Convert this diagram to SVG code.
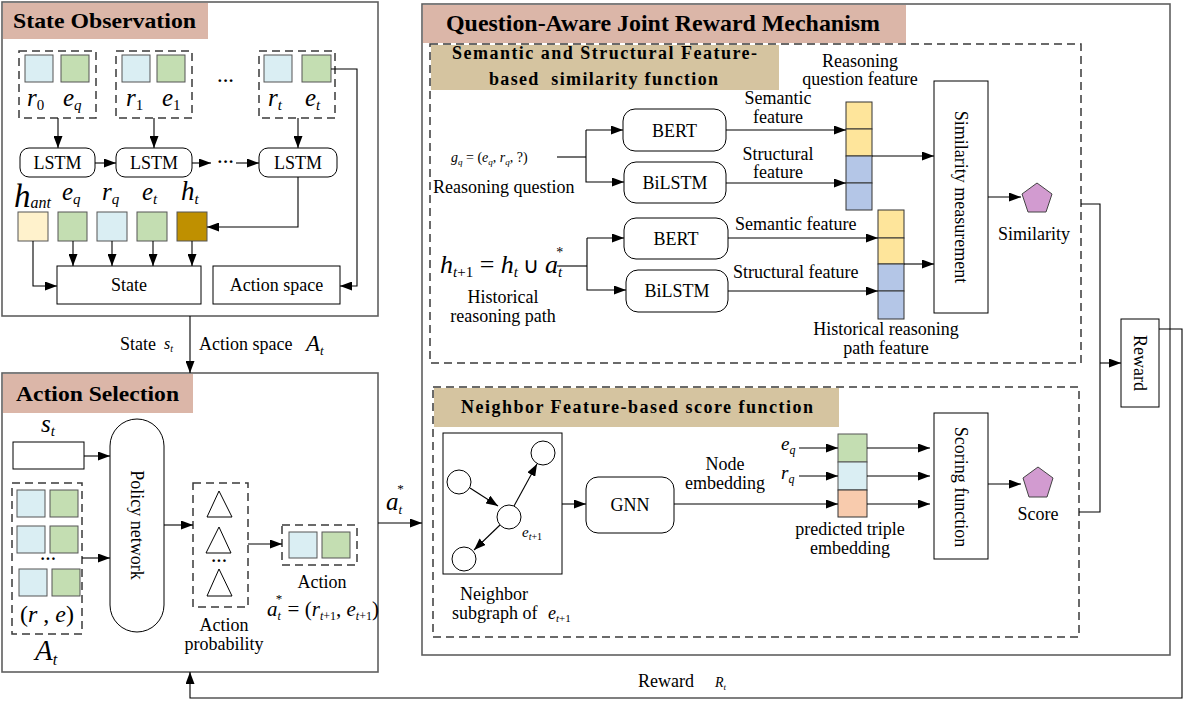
<svg xmlns="http://www.w3.org/2000/svg" width="1184" height="702" viewBox="0 0 1184 702">
<defs>
<marker id="ah" markerWidth="12" markerHeight="9" refX="12" refY="4.5" orient="auto" markerUnits="userSpaceOnUse"><path d="M0,0 L12,4.5 L0,9 z" fill="#000"/></marker>
<style>
.panel{fill:#fff;stroke:#5f5f5f;stroke-width:1.6}
.dash{fill:none;stroke:#3a3a3a;stroke-width:1.5;stroke-dasharray:8 5}
.box{fill:#fff;stroke:#000;stroke-width:1}
.ln{fill:none;stroke:#000;stroke-width:1.1}
.ar{fill:none;stroke:#000;stroke-width:1.1;marker-end:url(#ah)}
.t{font-family:"Liberation Serif","Times New Roman",serif;fill:#000}
.c{text-anchor:middle}
.ttl{font-family:"Liberation Serif","Times New Roman",serif;font-weight:bold;fill:#000}
.m{font-family:"Liberation Serif","Times New Roman",serif;font-style:italic;fill:#000}
.sal{fill:#dbb6a8}
.tan{fill:#d5c4a0}
.lb{fill:#daeef3;stroke:#555;stroke-width:1}
.gr{fill:#c4deb2;stroke:#555;stroke-width:1}
.ye{fill:#fee59b;stroke:#333;stroke-width:1}
.bl{fill:#b4c6e7;stroke:#333;stroke-width:1}
.pe{fill:#f8cbad;stroke:#333;stroke-width:1}
.pent{fill:#d29bd0;stroke:#444;stroke-width:1}
.tri{fill:#fff;stroke:#000;stroke-width:1}
.cir{fill:#fff;stroke:#000;stroke-width:1}
</style>
</defs>

<!-- ================= State Observation ================= -->
<g id="state-observation">
<rect class="panel" x="2" y="2" width="376" height="314"/>
<rect class="sal" x="3" y="3" width="205" height="36"/>
<text class="ttl" x="13" y="28" font-size="22" textLength="183" lengthAdjust="spacingAndGlyphs">State Observation</text>
</g>

<g id="obs-0">
<rect class="dash" x="19" y="51" width="77" height="67"/>
<rect class="lb" x="25" y="55" width="28" height="27"/>
<rect class="gr" x="61" y="55" width="28" height="27"/>
<text class="m" x="27" y="106" font-size="25">r<tspan font-size="15" font-style="normal" dy="4">0</tspan></text>
<text class="m" x="63" y="106" font-size="25">e<tspan font-size="15" dy="4">q</tspan></text>
</g>
<g id="obs-1">
<rect class="dash" x="116" y="51" width="76" height="67"/>
<rect class="lb" x="122" y="55" width="28" height="27"/>
<rect class="gr" x="157" y="55" width="28" height="27"/>
<text class="m" x="126" y="106" font-size="25">r<tspan font-size="15" font-style="normal" dy="4">1</tspan></text>
<text class="m" x="162" y="106" font-size="25">e<tspan font-size="15" font-style="normal" dy="4">1</tspan></text>
</g>
<text class="t" x="217" y="86" font-size="17" font-weight="bold">···</text>
<g id="obs-t">
<rect class="dash" x="259" y="51" width="76" height="67"/>
<rect class="lb" x="264" y="55" width="28" height="27"/>
<rect class="gr" x="302" y="55" width="29" height="27"/>
<text class="m" x="268" y="106" font-size="25">r<tspan font-size="15" dy="4">t</tspan></text>
<text class="m" x="305" y="106" font-size="25">e<tspan font-size="15" dy="4">t</tspan></text>
</g>

<g id="lstm-1"><rect class="box" x="20" y="148" width="75" height="29" rx="9"/><text class="t c" x="57.5" y="169" font-size="18">LSTM</text></g>
<g id="lstm-2"><rect class="box" x="116" y="148" width="76" height="29" rx="9"/><text class="t c" x="154" y="169" font-size="18">LSTM</text></g>
<g id="lstm-3"><rect class="box" x="259" y="148" width="78" height="29" rx="9"/><text class="t c" x="298" y="169" font-size="18">LSTM</text></g>
<text class="t" x="217" y="167" font-size="17" font-weight="bold">···</text>

<g id="state-vectors">
<text class="m" x="14" y="207" font-size="33">h<tspan font-size="16" dy="1">ant</tspan></text>
<text class="m" x="62" y="200" font-size="25">e<tspan font-size="15" dy="4">q</tspan></text>
<text class="m" x="102" y="200" font-size="25">r<tspan font-size="15" dy="4">q</tspan></text>
<text class="m" x="142" y="200" font-size="25">e<tspan font-size="15" dy="4">t</tspan></text>
<text class="m" x="181" y="200" font-size="27">h<tspan font-size="15" dy="4">t</tspan></text>
<rect x="18" y="212" width="30" height="29" fill="#fff2cc" stroke="#555"/>
<rect class="gr" x="58" y="212" width="29" height="29"/>
<rect class="lb" x="97" y="212" width="30" height="29"/>
<rect class="gr" x="137" y="212" width="30" height="29"/>
<rect x="177" y="212" width="30" height="29" fill="#bf9000" stroke="#555"/>
</g>
<g id="state-box"><rect class="box" x="57" y="266" width="144" height="38"/><text class="t c" x="129" y="291" font-size="18">State</text></g>
<g id="action-space-box"><rect class="box" x="213" y="266" width="127" height="38"/><text class="t c" x="276.5" y="291" font-size="18">Action space</text></g>

<!-- ================= Action Selection ================= -->
<g id="action-selection">
<rect class="panel" x="2" y="373" width="376" height="299"/>
<rect class="sal" x="3" y="374" width="190" height="39"/>
<text class="ttl" x="16" y="401" font-size="22" textLength="163" lengthAdjust="spacingAndGlyphs">Action Selection</text>
</g>
<g id="st-input">
<text class="m" x="41" y="432" font-size="25">s<tspan font-size="15" dy="4">t</tspan></text>
<rect class="box" x="13" y="442" width="71" height="27"/>
</g>
<g id="action-space-set">
<rect class="dash" x="12" y="483" width="70" height="151"/>
<rect class="lb" x="17" y="490" width="28" height="27"/>
<rect class="gr" x="50" y="490" width="28" height="27"/>
<rect class="lb" x="17" y="526" width="28" height="27"/>
<rect class="gr" x="50" y="526" width="28" height="27"/>
<text class="t" x="40" y="564" font-weight="bold" font-size="16">···</text>
<rect class="lb" x="19" y="569" width="28" height="27"/>
<rect class="gr" x="52" y="569" width="28" height="27"/>
<text class="m" x="20" y="622" font-size="24"><tspan font-style="normal">(</tspan>r<tspan font-style="normal"> , </tspan>e<tspan font-style="normal">)</tspan></text>
<text class="m" x="35" y="660" font-size="29">A<tspan font-size="16" dy="5">t</tspan></text>
</g>
<g id="policy-network">
<rect class="box" x="110" y="419" width="54" height="213" rx="27"/>
<text class="t c" transform="translate(137,525) rotate(90)" dy="6" font-size="18">Policy network</text>
</g>
<g id="action-probability">
<rect class="dash" x="193" y="483" width="55" height="124"/>
<polygon class="tri" points="219,491 207,517 232,517"/>
<polygon class="tri" points="219,527 206,553 231,553"/>
<text class="t" x="211" y="566" font-weight="bold" font-size="16">···</text>
<polygon class="tri" points="219,569 207,596 232,596"/>
<text class="t c" x="224" y="631" font-size="18">Action</text>
<text class="t c" x="224" y="650" font-size="18">probability</text>
</g>
<g id="action">
<rect class="dash" x="282" y="525" width="75" height="40"/>
<rect class="lb" x="289" y="532" width="28" height="26"/>
<rect class="gr" x="322" y="532" width="28" height="26"/>
<text class="t c" x="322" y="588" font-size="18">Action</text>
<text class="m" x="267" y="616" font-size="21">a<tspan font-size="12" dy="4">t</tspan><tspan font-size="13" dx="-5" dy="-17" font-style="normal">*</tspan><tspan font-style="normal" dy="13"> = (</tspan>r<tspan font-size="12" dy="4">t</tspan><tspan font-size="12" font-style="normal">+1</tspan><tspan font-style="normal" dy="-4">, </tspan>e<tspan font-size="12" dy="4">t</tspan><tspan font-size="12" font-style="normal">+1</tspan><tspan font-style="normal" dy="-4">)</tspan></text>
</g>

<!-- ================= Question-Aware Joint Reward Mechanism ================= -->
<g id="reward-mechanism">
<rect class="panel" x="422" y="4" width="748" height="651"/>
<rect class="sal" x="423" y="5" width="483" height="38"/>
<text class="ttl" x="446" y="31" font-size="23" textLength="434" lengthAdjust="spacingAndGlyphs">Question-Aware Joint Reward Mechanism</text>
</g>

<g id="similarity-function">
<rect class="dash" x="430" y="44" width="651" height="319"/>
<rect class="tan" x="431" y="45" width="348" height="45"/>
<text class="ttl" x="452" y="59" font-size="18" textLength="305" lengthAdjust="spacing">Semantic and Structural Feature-</text>
<text class="ttl" x="489" y="85" font-size="18" textLength="229" lengthAdjust="spacing" xml:space="preserve">based  similarity function</text>
</g>
<g id="reasoning-question">
<text class="m" x="451" y="162" font-size="14">g<tspan font-size="9" dy="3">q</tspan><tspan font-style="normal" dy="-3"> = (</tspan>e<tspan font-size="9" dy="3">q</tspan><tspan font-style="normal" dy="-3">, </tspan>r<tspan font-size="9" dy="3">q</tspan><tspan font-style="normal" dy="-3">, ?)</tspan></text>
<text class="t" x="433" y="193" font-size="18">Reasoning question</text>
</g>
<g id="bert-1"><rect class="box" x="623" y="109" width="103" height="42" rx="12"/><text class="t c" x="674.5" y="137" font-size="18">BERT</text></g>
<g id="bilstm-1"><rect class="box" x="624" y="162" width="102" height="41" rx="12"/><text class="t c" x="675" y="189" font-size="18">BiLSTM</text></g>
<g id="question-feature">
<text class="t c" x="860" y="67" font-size="18">Reasoning</text>
<text class="t c" x="860" y="85" font-size="18">question feature</text>
<rect class="ye" x="846" y="102" width="26" height="27"/>
<rect class="ye" x="846" y="129" width="26" height="27"/>
<rect class="bl" x="846" y="156" width="26" height="27"/>
<rect class="bl" x="846" y="183" width="26" height="27"/>
</g>
<g id="history-path">
<text class="m" x="440" y="273" font-size="26">h<tspan font-size="15" dy="4">t</tspan><tspan font-size="15" font-style="normal">+1</tspan><tspan font-style="normal" dy="-4"> = </tspan>h<tspan font-size="15" dy="4">t</tspan><tspan font-style="normal" font-size="22" dy="-4"> ∪ </tspan>a<tspan font-size="15" dy="4">t</tspan><tspan font-size="14" font-style="normal" dx="-6" dy="-20">*</tspan></text>
<text class="t c" x="503" y="303" font-size="18">Historical</text>
<text class="t c" x="503" y="322" font-size="18">reasoning path</text>
</g>
<g id="bert-2"><rect class="box" x="624" y="218" width="104" height="41" rx="12"/><text class="t c" x="676" y="245" font-size="18">BERT</text></g>
<g id="bilstm-2"><rect class="box" x="626" y="270" width="102" height="42" rx="12"/><text class="t c" x="677" y="297" font-size="18">BiLSTM</text></g>
<g id="history-feature">
<rect class="ye" x="878" y="210" width="26" height="28"/>
<rect class="ye" x="878" y="238" width="26" height="26"/>
<rect class="bl" x="878" y="264" width="26" height="27"/>
<rect class="bl" x="878" y="291" width="26" height="28"/>
<text class="t c" x="886" y="335" font-size="18">Historical reasoning</text>
<text class="t c" x="886" y="354" font-size="18">path feature</text>
</g>
<g id="similarity-measurement">
<rect class="box" x="934" y="81" width="54" height="232"/>
<text class="t c" transform="translate(961,197) rotate(90)" dy="6" font-size="18">Similarity measurement</text>
</g>
<g id="similarity">
<polygon class="pent" points="1037,183 1052,194 1046,212 1028,212 1022,194"/>
<text class="t c" x="1034" y="240" font-size="18">Similarity</text>
</g>

<g id="score-function">
<rect class="dash" x="433" y="387" width="646" height="250"/>
<rect class="tan" x="434" y="388" width="405" height="39"/>
<text class="ttl" x="461" y="413" font-size="18" textLength="352" lengthAdjust="spacing">Neighbor Feature-based score function</text>
</g>
<g id="neighbor-subgraph">
<rect class="box" x="443" y="433" width="119" height="141"/>
<circle class="cir" cx="459" cy="482" r="12"/>
<circle class="cir" cx="543" cy="453" r="12"/>
<circle class="cir" cx="509" cy="517" r="12"/>
<circle class="cir" cx="464" cy="559" r="12"/>
<line class="ar" x1="470" y1="488" x2="498" y2="506"/>
<line class="ar" x1="514" y1="506" x2="537" y2="464"/>
<line class="ar" x1="500" y1="525" x2="474" y2="550"/>
<text class="m" x="522" y="537" font-size="15">e<tspan font-size="10" dy="3">t</tspan><tspan font-size="10" font-style="normal">+1</tspan></text>
<text class="t c" x="494" y="600" font-size="18">Neighbor</text>
<text class="t" x="452" y="619" font-size="18">subgraph of</text>
<text class="m" x="548" y="619" font-size="18">e<tspan font-size="11" dy="3">t</tspan><tspan font-size="11" font-style="normal">+1</tspan></text>
</g>
<g id="gnn"><rect class="box" x="586" y="477" width="88" height="56" rx="12"/><text class="t c" x="630" y="511" font-size="18">GNN</text></g>
<g id="triple-embedding">
<text class="t c" x="725" y="470" font-size="18">Node</text>
<text class="t c" x="725" y="489" font-size="18">embedding</text>
<text class="m" x="781" y="450" font-size="19">e<tspan font-size="12" dy="4">q</tspan></text>
<text class="m" x="781" y="479" font-size="19">r<tspan font-size="12" dy="4">q</tspan></text>
<rect class="gr" x="838" y="434" width="29" height="28" stroke="#333"/>
<rect class="lb" x="838" y="462" width="29" height="28" stroke="#333"/>
<rect class="pe" x="838" y="490" width="29" height="27"/>
<text class="t c" x="850" y="535" font-size="18">predicted triple</text>
<text class="t c" x="850" y="554" font-size="18">embedding</text>
</g>
<g id="scoring-function">
<rect class="box" x="934" y="413" width="54" height="146"/>
<text class="t c" transform="translate(961,487) rotate(90)" dy="6" font-size="18">Scoring function</text>
</g>
<g id="score">
<polygon class="pent" points="1038,467 1053,478 1047,497 1029,497 1023,478"/>
<text class="t c" x="1038" y="520" font-size="18">Score</text>
</g>
<g id="reward">
<rect class="box" x="1121" y="319" width="38" height="88"/>
<text class="t c" transform="translate(1140,363) rotate(90)" dy="6" font-size="18">Reward</text>
</g>

<!-- ================= Connectors ================= -->
<g id="connectors">
<line class="ar" x1="58" y1="118" x2="58" y2="148"/>
<line class="ar" x1="154" y1="118" x2="154" y2="148"/>
<line class="ar" x1="298" y1="118" x2="298" y2="148"/>
<line class="ar" x1="95" y1="163" x2="116" y2="163"/>
<line class="ar" x1="192" y1="163" x2="211" y2="163"/>
<line class="ar" x1="236" y1="163" x2="259" y2="163"/>
<polyline class="ar" points="298,177 298,227 207,227"/>
<polyline class="ar" points="331,69 357,69 357,286 340,286"/>
<line class="ar" x1="73" y1="241" x2="73" y2="266"/>
<line class="ar" x1="112" y1="241" x2="112" y2="266"/>
<line class="ar" x1="153" y1="241" x2="153" y2="266"/>
<line class="ar" x1="192" y1="241" x2="192" y2="266"/>
<polyline class="ar" points="33,241 33,286 57,286"/>

<line class="ar" x1="190" y1="316" x2="190" y2="373"/>
<text class="t" x="120" y="350" font-size="18">State</text>
<text class="m" x="164" y="349" font-size="16">s<tspan font-size="10" dy="3">t</tspan></text>
<text class="t" x="199" y="350" font-size="18">Action space</text>
<text class="m" x="306" y="351" font-size="23">A<tspan font-size="13" dy="4">t</tspan></text>

<line class="ar" x1="84" y1="456" x2="110" y2="456"/>
<line class="ar" x1="82" y1="558" x2="110" y2="558"/>
<line class="ar" x1="164" y1="525" x2="193" y2="525"/>
<line class="ar" x1="248" y1="544" x2="282" y2="544"/>
<line class="ar" x1="378" y1="523" x2="422" y2="523"/>
<text class="m" x="386" y="510" font-size="25">a<tspan font-size="13" dy="4">t</tspan><tspan font-size="13" font-style="normal" dx="-5" dy="-21">*</tspan></text>

<polyline class="ln" points="557,157 586,157"/>
<polyline class="ar" points="586,130 586,182 624,182"/>
<line class="ar" x1="586" y1="130" x2="623" y2="130"/>
<line class="ar" x1="726" y1="130" x2="846" y2="130"/>
<line class="ar" x1="726" y1="183" x2="846" y2="183"/>
<text class="t c" x="778" y="104" font-size="18">Semantic</text>
<text class="t c" x="778" y="123" font-size="18">feature</text>
<text class="t c" x="778" y="160" font-size="18">Structural</text>
<text class="t c" x="778" y="178" font-size="18">feature</text>
<line class="ar" x1="872" y1="156" x2="934" y2="156"/>

<polyline class="ln" points="557,266 587,266"/>
<polyline class="ar" points="587,238 587,290 626,290"/>
<line class="ar" x1="587" y1="238" x2="624" y2="238"/>
<line class="ar" x1="728" y1="238" x2="878" y2="238"/>
<line class="ar" x1="728" y1="291" x2="878" y2="291"/>
<text class="t" x="735" y="230" font-size="18">Semantic feature</text>
<text class="t" x="733" y="278" font-size="18">Structural feature</text>
<line class="ar" x1="904" y1="264" x2="934" y2="264"/>

<line class="ar" x1="988" y1="197" x2="1021" y2="197"/>

<line class="ar" x1="562" y1="504" x2="586" y2="504"/>
<line class="ar" x1="674" y1="504" x2="838" y2="504"/>
<line class="ar" x1="799" y1="448" x2="838" y2="448"/>
<line class="ar" x1="799" y1="476" x2="838" y2="476"/>
<line class="ar" x1="867" y1="448" x2="930" y2="448"/>
<line class="ar" x1="867" y1="476" x2="930" y2="476"/>
<line class="ar" x1="867" y1="504" x2="930" y2="504"/>
<line class="ar" x1="988" y1="484" x2="1021" y2="484"/>

<polyline class="ln" points="1081,204 1100,204 1100,512 1079,512"/>
<line class="ar" x1="1100" y1="363" x2="1121" y2="363"/>

<polyline class="ar" points="1159,329 1182,329 1182,698 190,698 190,672"/>
<text class="t" x="638" y="687" font-size="18">Reward</text>
<text class="m" x="715" y="687" font-size="14">R<tspan font-size="9" dy="3">t</tspan></text>
</g>
</svg>
